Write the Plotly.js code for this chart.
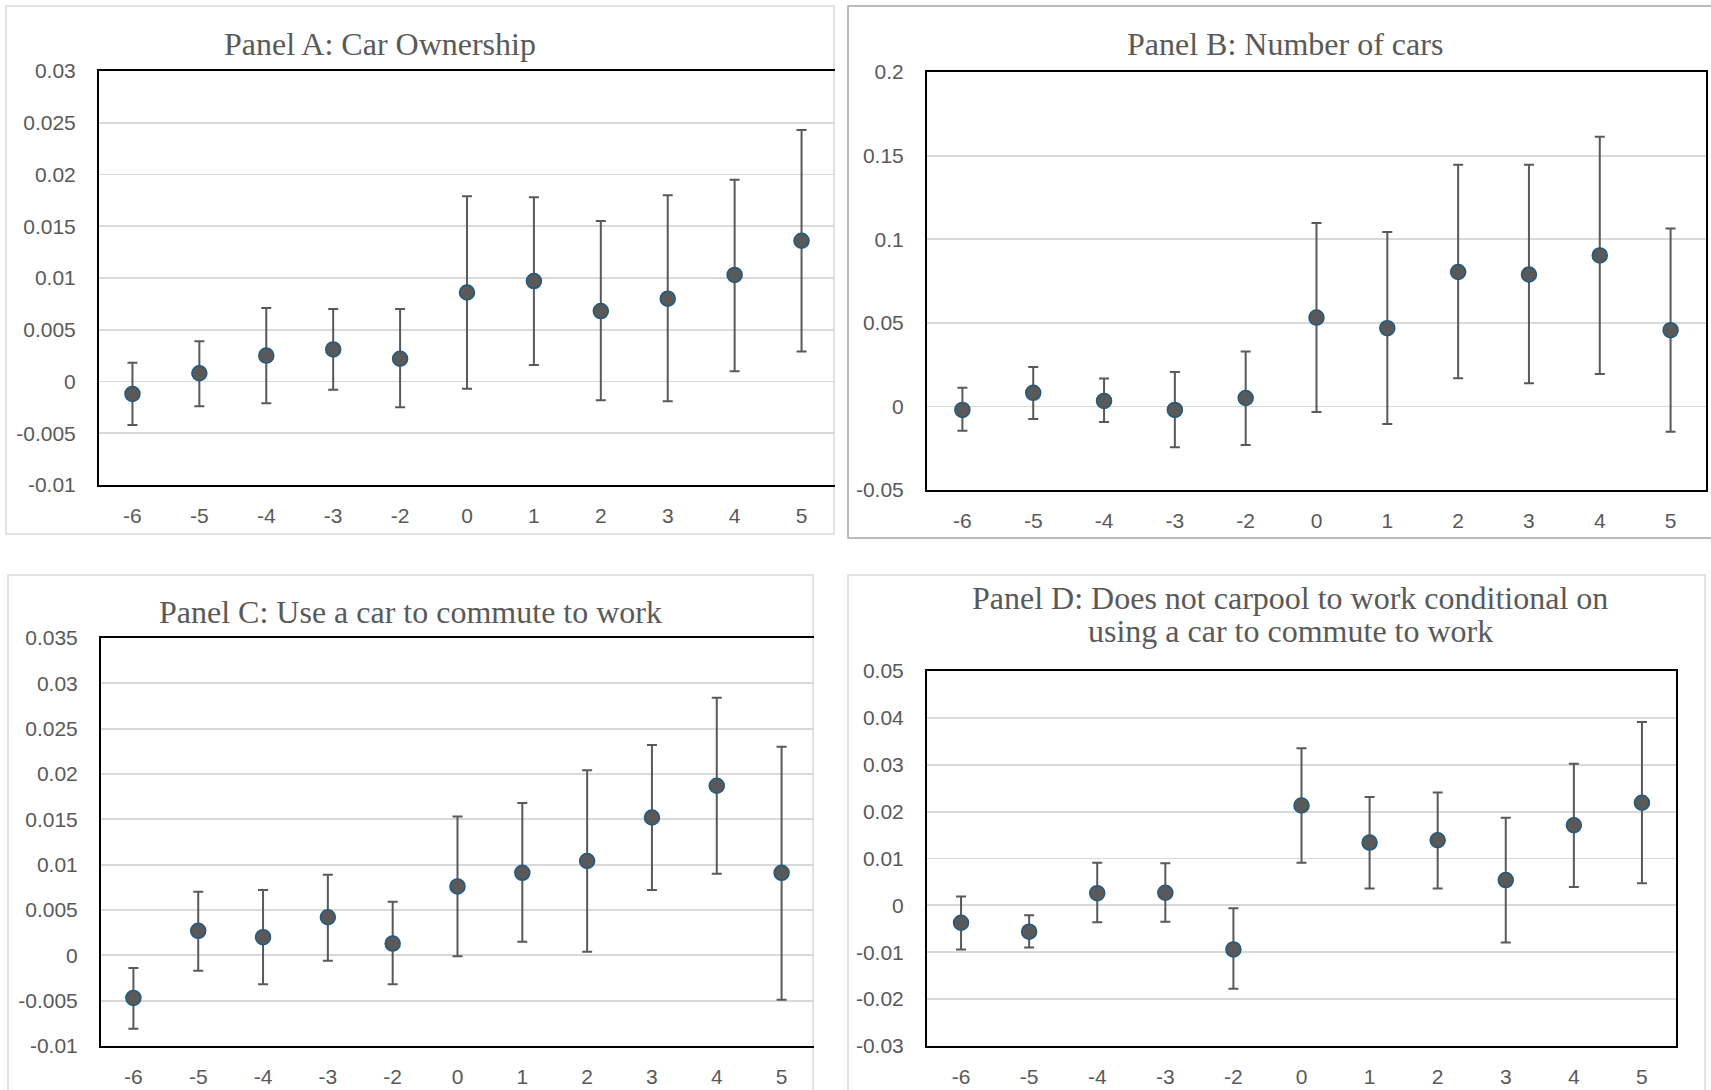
<!DOCTYPE html>
<html>
<head>
<meta charset="utf-8">
<script src="https://cdn.plot.ly/plotly-3.0.1.min.js"></script>
<style>
  html, body { margin: 0; padding: 0; background: #ffffff; }
  #chart { width: 1711px; height: 1090px; }
</style>
</head>
<body>
<div id="chart"></div>
<script>
// ---------- data ----------
const periods = ["-6", "-5", "-4", "-3", "-2", "0", "1", "2", "3", "4", "5"];

const titleA = "Panel A: Car Ownership";
const estA   = [-0.0012, 0.0008, 0.0025, 0.0031, 0.0022, 0.0086, 0.0097, 0.0068, 0.0080, 0.0103, 0.0136];
const upperA = [0.0018, 0.0039, 0.0071, 0.0070, 0.0070, 0.0179, 0.0178, 0.0155, 0.0180, 0.0195, 0.0243];
const lowerA = [-0.0042, -0.0024, -0.0021, -0.0008, -0.0025, -0.0007, 0.0016, -0.0018, -0.0019, 0.0010, 0.0029];
const yTicksA = [-0.01, -0.005, 0, 0.005, 0.01, 0.015, 0.02, 0.025, 0.03];
const yLabelsA = ["-0.01", "-0.005", "0", "0.005", "0.01", "0.015", "0.02", "0.025", "0.03"];

const titleB = "Panel B: Number of cars";
const estB   = [-0.0021, 0.0081, 0.0033, -0.0021, 0.0050, 0.0531, 0.0468, 0.0804, 0.0789, 0.0903, 0.0456];
const upperB = [0.0112, 0.0235, 0.0167, 0.0206, 0.0329, 0.1097, 0.1043, 0.1445, 0.1445, 0.1613, 0.1064];
const lowerB = [-0.0146, -0.0075, -0.0094, -0.0244, -0.0231, -0.0033, -0.0106, 0.0169, 0.0139, 0.0194, -0.0152];
const yTicksB = [-0.05, 0, 0.05, 0.1, 0.15, 0.2];
const yLabelsB = ["-0.05", "0", "0.05", "0.1", "0.15", "0.2"];

const titleC = "Panel C: Use a car to commute to work";
const estC   = [-0.0047, 0.0027, 0.0020, 0.0042, 0.0013, 0.0076, 0.0091, 0.0104, 0.0152, 0.0187, 0.0091];
const upperC = [-0.0014, 0.0070, 0.0072, 0.0089, 0.0059, 0.0153, 0.0168, 0.0204, 0.0232, 0.0284, 0.0230];
const lowerC = [-0.0081, -0.0017, -0.0032, -0.0006, -0.0032, -0.0001, 0.0015, 0.0004, 0.0072, 0.0090, -0.0049];
const yTicksC = [-0.01, -0.005, 0, 0.005, 0.01, 0.015, 0.02, 0.025, 0.03, 0.035];
const yLabelsC = ["-0.01", "-0.005", "0", "0.005", "0.01", "0.015", "0.02", "0.025", "0.03", "0.035"];

const titleD1 = "Panel D: Does not carpool to work conditional on";
const titleD2 = "using a car to commute to work";
const estD   = [-0.0037, -0.0056, 0.0026, 0.0027, -0.0094, 0.0213, 0.0134, 0.0139, 0.0054, 0.0171, 0.0219];
const upperD = [0.0019, -0.0021, 0.0091, 0.0090, -0.0006, 0.0335, 0.0231, 0.0241, 0.0187, 0.0302, 0.0391];
const lowerD = [-0.0094, -0.0090, -0.0036, -0.0035, -0.0178, 0.0091, 0.0036, 0.0036, -0.0079, 0.0039, 0.0047];
const yTicksD = [-0.03, -0.02, -0.01, 0, 0.01, 0.02, 0.03, 0.04, 0.05];
const yLabelsD = ["-0.03", "-0.02", "-0.01", "0", "0.01", "0.02", "0.03", "0.04", "0.05"];

// ---------- layout helpers ----------
const W = 1711, H = 1090;
const px = v => v / W;
const py = v => 1 - v / H;

const GRAY = "#595959";
const tickFont = { family: "Liberation Sans, Arial, sans-serif", size: 21, color: GRAY };
const titleFont = { family: "Liberation Serif, Times New Roman, serif", size: 32, color: GRAY };

function makeTrace(est, up, lo, xa, ya) {
  return {
    type: "scatter", mode: "markers",
    x: periods, y: est, xaxis: xa, yaxis: ya,
    marker: { size: 15, color: GRAY, line: { color: "#1f5a80", width: 1.5 } },
    error_y: {
      type: "data", symmetric: false,
      array: up.map((u, i) => u - est[i]),
      arrayminus: lo.map((l, i) => est[i] - l),
      color: GRAY, thickness: 2, width: 5
    },
    hoverinfo: "x+y", showlegend: false, cliponaxis: false
  };
}

function xAxis(domain, anchor) {
  return {
    type: "category", domain: domain, anchor: anchor,
    categoryorder: "array", categoryarray: periods,
    range: [-0.5, periods.length - 0.5], autorange: false,
    showline: true, mirror: true, linecolor: "#000000", linewidth: 2,
    showgrid: false, zeroline: false, ticks: "", ticklen: 0,
    tickfont: tickFont, ticklabelstandoff: 11, fixedrange: true
  };
}
function yAxis(domain, anchor, range, tv, tt, mirror) {
  return {
    domain: domain, anchor: anchor, range: range, autorange: false,
    tickmode: "array", tickvals: tv, ticktext: tt,
    showline: true, mirror: mirror, linecolor: "#000000", linewidth: 2,
    showgrid: true, gridcolor: "#d9d9d9", gridwidth: 1.8, zeroline: false,
    ticks: "", ticklen: 0, tickfont: tickFont, ticklabelstandoff: 17, fixedrange: true
  };
}

const data = [
  makeTrace(estA, upperA, lowerA, "x", "y"),
  makeTrace(estB, upperB, lowerB, "x2", "y2"),
  makeTrace(estC, upperC, lowerC, "x3", "y3"),
  makeTrace(estD, upperD, lowerD, "x4", "y4")
];

const dA = { x: [px(99), px(835)], y: [py(485), py(71)] };
const dB = { x: [px(927), px(1706)], y: [py(490), py(72)] };
const dC = { x: [px(101), px(814)], y: [py(1046), py(638)] };
const dD = { x: [px(927), px(1676)], y: [py(1046), py(671)] };

function box(x0, y0, x1, y1, color) {
  return {
    type: "rect", xref: "paper", yref: "paper", layer: "below",
    x0: px(x0), x1: px(x1), y0: py(y1), y1: py(y0),
    line: { color: color, width: 1.5 }, fillcolor: "rgba(0,0,0,0)"
  };
}
function ttl(text, x, y) {
  return {
    text: text, xref: "paper", yref: "paper", x: px(x), y: py(y),
    xanchor: "center", yanchor: "middle", showarrow: false,
    font: titleFont, align: "center"
  };
}

const layout = {
  width: W, height: H,
  margin: { l: 0, r: 0, t: 0, b: 0, pad: 0 },
  paper_bgcolor: "#ffffff", plot_bgcolor: "#ffffff",
  showlegend: false,
  xaxis: xAxis(dA.x, "y"),
  yaxis: yAxis(dA.y, "x", [-0.01, 0.03], yTicksA, yLabelsA, false),
  xaxis2: xAxis(dB.x, "y2"),
  yaxis2: yAxis(dB.y, "x2", [-0.05, 0.2], yTicksB, yLabelsB, true),
  xaxis3: xAxis(dC.x, "y3"),
  yaxis3: yAxis(dC.y, "x3", [-0.01, 0.035], yTicksC, yLabelsC, false),
  xaxis4: xAxis(dD.x, "y4"),
  yaxis4: yAxis(dD.y, "x4", [-0.03, 0.05], yTicksD, yLabelsD, true),
  shapes: [
    box(6, 6, 834, 534, "#d9d9d9"),
    box(848, 6, 1716, 538, "#a6a6a6"),
    box(8, 575, 813, 1100, "#d9d9d9"),
    box(848, 575, 1705, 1100, "#d9d9d9")
  ],
  annotations: [
    ttl(titleA, 380, 44),
    ttl(titleB, 1285, 44),
    ttl(titleC, 410, 612),
    ttl(titleD1, 1290, 598),
    ttl(titleD2, 1290, 631)
  ]
};

Plotly.newPlot("chart", data, layout, { displayModeBar: false, staticPlot: true });
</script>
</body>
</html>
